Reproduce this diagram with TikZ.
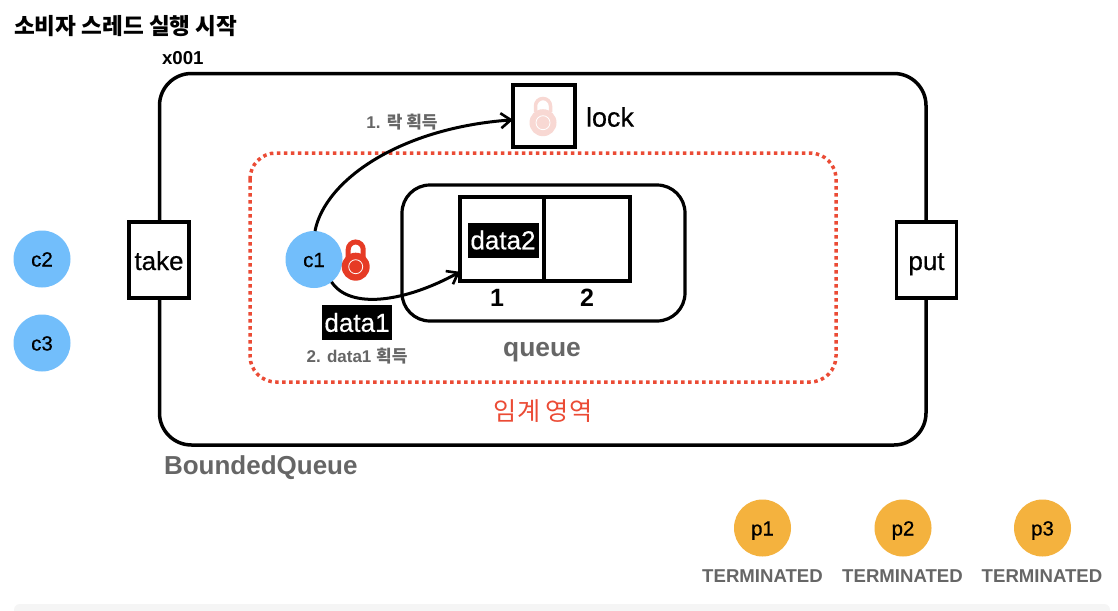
\documentclass[tikz,border=0pt]{standalone}
\usepackage{fontspec}
\setmainfont{Liberation Sans}
\newfontfamily\kr{Noto Sans CJK KR}
\newfontfamily\med[RawFeature={embolden=0.5}]{Liberation Sans}
\usetikzlibrary{arrows.meta}
\definecolor{cblue}{HTML}{72BEFB}
\definecolor{porange}{HTML}{F4B23E}
\definecolor{redl}{HTML}{E63B25}
\definecolor{dotred}{HTML}{EB4B35}
\definecolor{greyt}{HTML}{666666}
\definecolor{pinkl}{HTML}{F8D8D3}
\newcommand{\fs}[1]{\fontsize{#1}{#1}\selectfont}
\tikzset{
  x=1pt,y=-1pt,
  every node/.style={inner sep=0pt,outer sep=0pt},
  thick box/.style={draw=black,line width=3.2pt,fill=white,anchor=center},
  thread/.style={circle,minimum size=57pt,font=\med\fs{20.5},text height=15pt,text depth=0pt},
  consumer/.style={thread,fill=cblue},
  producer/.style={thread,fill=porange},
  data/.style={fill=black,text=white,font=\med\fs{26},minimum height=35pt},
  grey label/.style={text=greyt,font=\bfseries\fs{17}},
  state/.style={text=greyt,font=\bfseries\fs{18.6}},
  method/.style={thick box,minimum width=60pt,minimum height=76pt,font=\med\fs{26},text height=20pt,text depth=0pt},
  flow/.style={line width=3pt,-{Straight Barb[length=10pt,width=15pt,line width=2.6pt]}},
}
\begin{document}
\begin{tikzpicture}
\useasboundingbox (0,0) rectangle (1118,610);
\fill[white] (0,0) rectangle (1118,610);
\fill[black!4,rounded corners=6pt] (14,604) rectangle (1110,622);
\node[anchor=west,font=\kr\bfseries\fs{22.6}] (title) at (14,26) {소비자 스레드 실행 시작};
\node[font=\bfseries\fs{18.7},anchor=west] (addr) at (162,58) {x001};
\draw[line width=3.5pt,rounded corners=32pt] (159.5,73.5) rectangle (926,445);
\node[state,font=\bfseries\fs{26},anchor=west] (bq) at (164,468) {BoundedQueue};
\draw[dotred,line width=3.5pt,dash pattern=on 3.5pt off 3.5pt,rounded corners=26pt] (250,153) rectangle (836,382);
\node[text=dotred,font=\kr\fs{25.2}] (crit) at (543,411.5) {임계 영역};
\draw[line width=3.2pt,rounded corners=28pt,fill=white] (402,185) rectangle (685,321);
\node[thick box,minimum width=84pt,minimum height=84pt] (cell1) at (502,239) {};
\node[thick box,minimum width=86pt,minimum height=84pt] (cell2) at (587,239) {};
\node[data,minimum width=71pt] (d2) at (503,240) {data2};
\node[font=\bfseries\fs{25}] (n1) at (497,298) {1};
\node[font=\bfseries\fs{25}] (n2) at (587,298) {2};
\node[grey label,font=\bfseries\fs{26.4},text height=20pt,text depth=0pt] (qlabel) at (542,346) {queue};
\node[thick box,minimum width=62pt,minimum height=62pt] (lockbox) at (544,116) {};
\begin{scope}
\draw[pinkl,line width=3.5pt] (535.5,112) -- (535.5,106) arc[start angle=180,end angle=0,x radius=7.5,y radius=-7.5] -- (550.5,112);
\fill[pinkl] (543,122.7) circle[radius=13.5];
\draw[white,line width=0.8pt] (543,122.7) circle[radius=7];
\end{scope}
\node[anchor=west,font=\med\fs{27}] (locklabel) at (586,117) {lock};
\node[method] (take) at (159,260) {take};
\node[method] (put) at (926.5,260) {put};
\node[consumer] (c1) at (314,259.5) {c1};
\node[consumer] (c2) at (42,259) {c2};
\node[consumer] (c3) at (42,343) {c3};
\begin{scope}
\draw[redl,line width=5pt] (348.2,258) -- (348.2,249.5) arc[start angle=180,end angle=0,x radius=7.5,y radius=-7.5] -- (363.2,258);
\fill[redl] (355.7,266.7) circle[radius=14];
\draw[white,line width=0.8pt,fill=redl] (355.7,266.7) circle[radius=7];
\end{scope}
\node[data,minimum width=70pt] (d1) at (357,322.5) {data1};
\node[grey label] (l1) at (402,122) {1. {\kr 락 획득}};
\node[grey label] (l2) at (357,356) {2. data1 {\kr 획득}};
\draw[flow] (c1.88) .. controls (325,180) and (400,128) .. (lockbox.187);
\draw[flow] (c1.-52) .. controls (350,310) and (405,302) .. (cell1.218);
\node[producer] (p1) at (762.5,528) {p1};
\node[producer] (p2) at (903,528) {p2};
\node[producer] (p3) at (1042.5,528) {p3};
\node[state] (t1) at (762.5,576.5) {TERMINATED};
\node[state] (t2) at (902.5,576.5) {TERMINATED};
\node[state] (t3) at (1042,576.5) {TERMINATED};
\end{tikzpicture}
\end{document}
